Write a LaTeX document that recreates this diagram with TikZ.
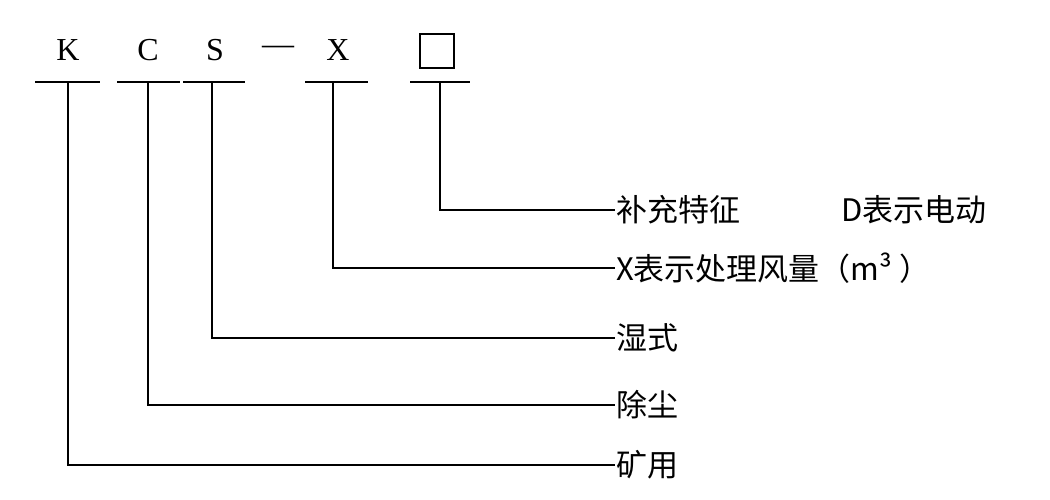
\documentclass[tikz,border=0pt]{standalone}
\usepackage{fontspec}
\setmainfont{Liberation Serif}
\newfontfamily\cjk{Noto Sans CJK SC}
\begin{document}
\begin{tikzpicture}[x=1pt,y=-1pt,line width=2pt,
  top/.style={font=\fontsize{32}{36}\selectfont,inner sep=0pt},
  lab/.style={font=\cjk\fontsize{31}{36}\selectfont,anchor=west,inner sep=0pt}]
\useasboundingbox (0,0) rectangle (1050,500);
\node[top] (k) at (68,50) {K};
\node[top] (c) at (148,50) {C};
\node[top] (s) at (215,50) {S};
\node[top] (d) at (278,50) {—};
\node[top] (x) at (338,50) {X};
\node[draw,line width=1.5pt,minimum size=34pt,inner sep=0pt] (b) at (437,51) {};
\foreach \a/\b in {35/100,117/180,183/245,305/368,410/470}
  \draw (\a,82) -- (\b,82);
\node[lab] (l1) at (615,210) {补充特征\hspace{95pt}};
\node[lab] at (840,210) {D表示电动};
\node[lab] (l2) at (615,268) {X表示处理风量（m³ ）};
\node[lab] (l3) at (615,338) {湿式};
\node[lab] (l4) at (615,405) {除尘};
\node[lab] (l5) at (615,465) {矿用};
\draw (440,82) |- (l1.west);
\draw (333,82) |- (l2.west);
\draw (212,82) |- (l3.west);
\draw (148,82) |- (l4.west);
\draw (68,82) |- (l5.west);
\end{tikzpicture}
\end{document}
